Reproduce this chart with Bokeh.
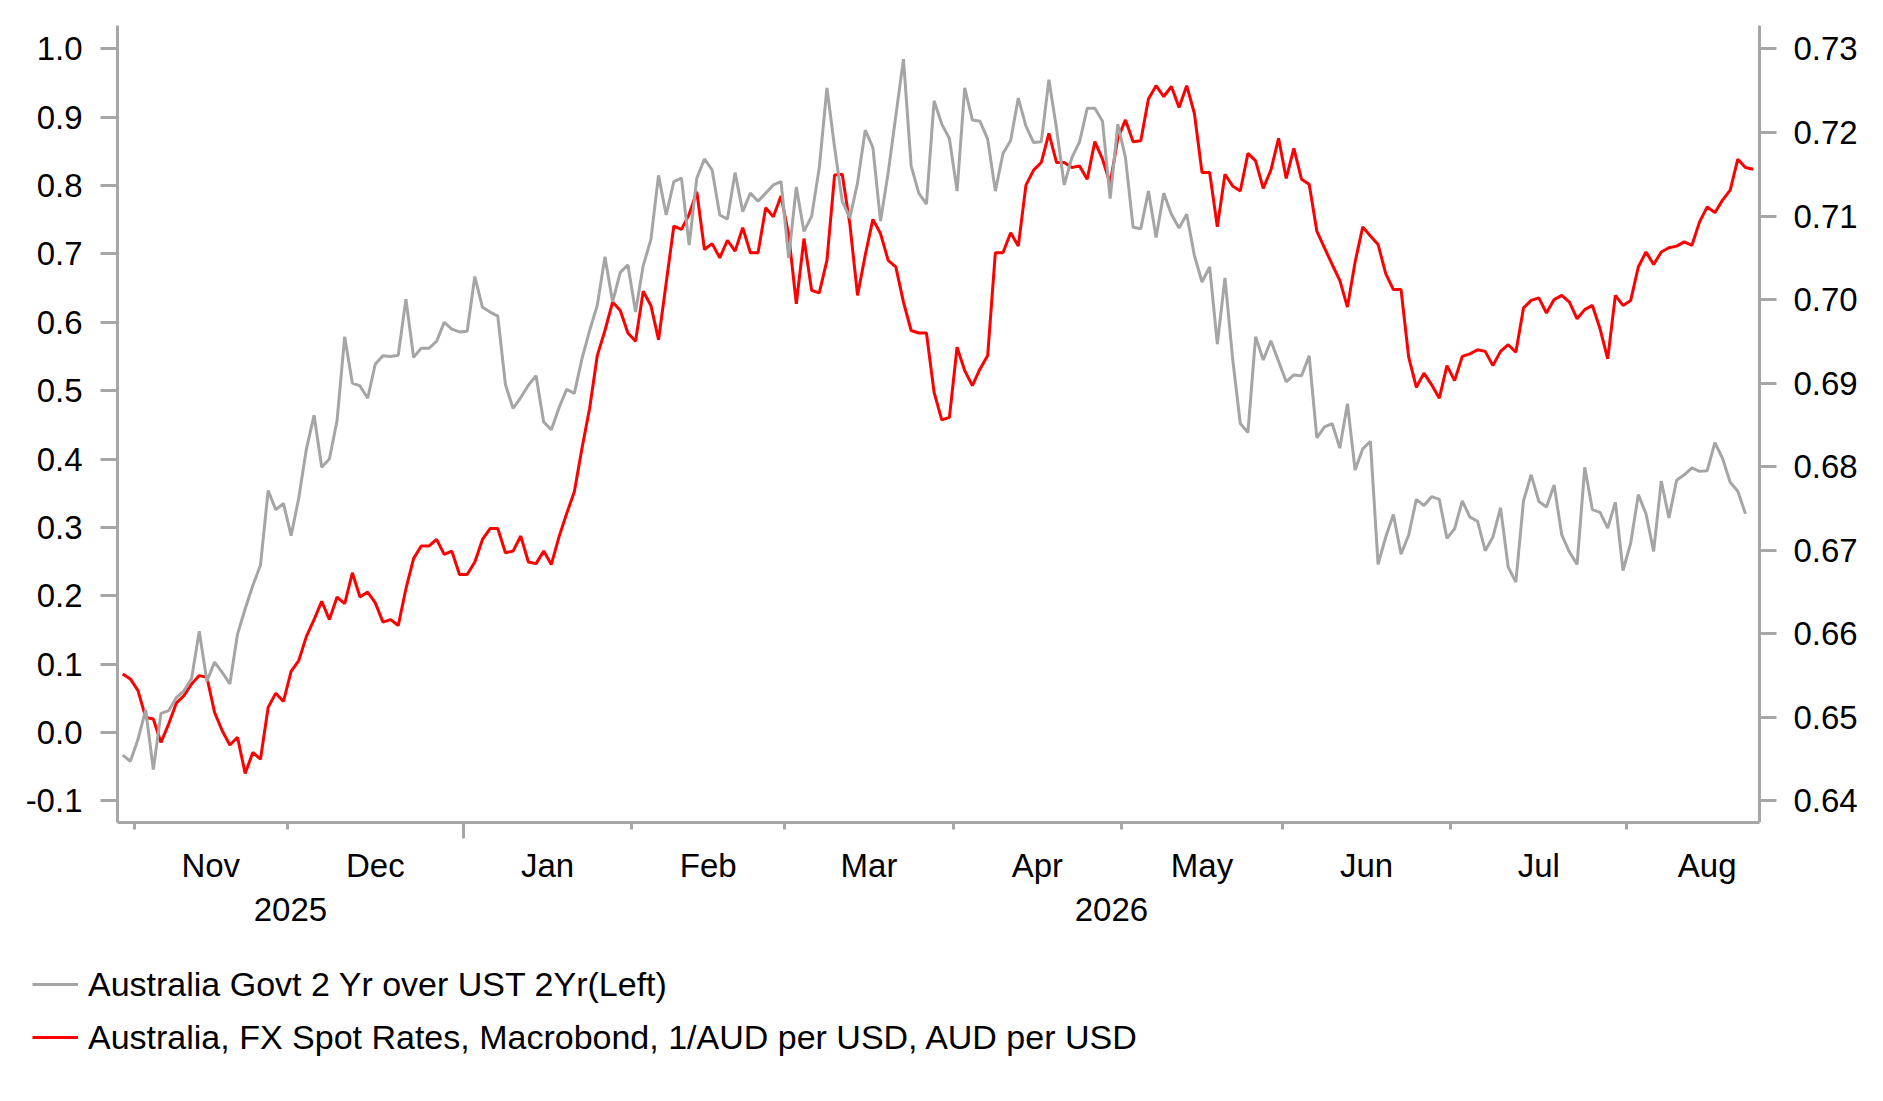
import numpy as np
import pandas as pd
from bokeh.plotting import figure
from bokeh.models import (Range1d, LinearAxis, FixedTicker, PrintfTickFormatter,
                          Legend, LegendItem)
from bokeh.embed import file_html
from bokeh.resources import INLINE

# ---------------- data ----------------
start_date = "2025-10-30"      # first business day plotted
axis_end_date = "2026-08-31"   # last business day of the last labelled month

spread_2y = [  # Australia Govt 2Yr over UST 2Yr (left axis)
    -0.033, -0.042, -0.010, 0.033, -0.054, 0.028, 0.032, 0.051, 0.061, 0.079,
    0.148, 0.075, 0.103, 0.088, 0.071, 0.144, 0.181, 0.215, 0.245, 0.354,
    0.326, 0.335, 0.288, 0.343, 0.415, 0.464, 0.388, 0.400, 0.456, 0.579,
    0.511, 0.507, 0.489, 0.539, 0.551, 0.550, 0.552, 0.634, 0.549, 0.562,
    0.562, 0.572, 0.600, 0.590, 0.586, 0.587, 0.667, 0.622, 0.615, 0.609,
    0.509, 0.474, 0.490, 0.508, 0.522, 0.454, 0.443, 0.475, 0.502, 0.496,
    0.547, 0.588, 0.625, 0.696, 0.630, 0.673, 0.684, 0.615, 0.683, 0.721,
    0.815, 0.757, 0.806, 0.811, 0.713, 0.811, 0.839, 0.823, 0.757, 0.751,
    0.819, 0.762, 0.789, 0.777, 0.789, 0.801, 0.806, 0.694, 0.798, 0.733,
    0.755, 0.826, 0.943, 0.856, 0.777, 0.753, 0.804, 0.881, 0.856, 0.748,
    0.819, 0.902, 0.985, 0.829, 0.789, 0.773, 0.924, 0.890, 0.869, 0.792,
    0.943, 0.896, 0.894, 0.868, 0.792, 0.847, 0.866, 0.928, 0.887, 0.863,
    0.864, 0.955, 0.883, 0.801, 0.841, 0.864, 0.913, 0.913, 0.894, 0.781,
    0.890, 0.841, 0.739, 0.737, 0.792, 0.724, 0.789, 0.758, 0.738, 0.758,
    0.698, 0.659, 0.681, 0.568, 0.665, 0.547, 0.452, 0.439, 0.579, 0.545,
    0.573, 0.543, 0.513, 0.523, 0.522, 0.551, 0.431, 0.447, 0.452, 0.416,
    0.481, 0.384, 0.415, 0.426, 0.246, 0.286, 0.319, 0.261, 0.289, 0.341,
    0.332, 0.345, 0.341, 0.284, 0.298, 0.339, 0.315, 0.309, 0.266, 0.286,
    0.329, 0.242, 0.220, 0.339, 0.377, 0.338, 0.330, 0.362, 0.289, 0.264,
    0.246, 0.388, 0.326, 0.322, 0.299, 0.337, 0.237, 0.277, 0.348, 0.320,
    0.265, 0.368, 0.314, 0.369, 0.377, 0.387, 0.382, 0.383, 0.424, 0.401,
    0.366, 0.353, 0.320,
]

aud_usd = [  # 1/AUD per USD (right axis)
    0.6552, 0.6546, 0.6532, 0.6500, 0.6498, 0.6470, 0.6492, 0.6517, 0.6526, 0.6540,
    0.6550, 0.6548, 0.6506, 0.6484, 0.6467, 0.6476, 0.6433, 0.6458, 0.6450, 0.6512,
    0.6529, 0.6519, 0.6555, 0.6568, 0.6597, 0.6617, 0.6639, 0.6617, 0.6644, 0.6636,
    0.6673, 0.6644, 0.6650, 0.6637, 0.6614, 0.6617, 0.6610, 0.6654, 0.6690, 0.6705,
    0.6705, 0.6713, 0.6695, 0.6699, 0.6671, 0.6671, 0.6686, 0.6713, 0.6726, 0.6726,
    0.6697, 0.6699, 0.6717, 0.6686, 0.6684, 0.6699, 0.6683, 0.6716, 0.6744, 0.6770,
    0.6822, 0.6870, 0.6933, 0.6963, 0.6997, 0.6987, 0.6960, 0.6950, 0.7010, 0.6993,
    0.6952, 0.7020, 0.7088, 0.7084, 0.7102, 0.7129, 0.7060, 0.7067, 0.7050, 0.7071,
    0.7058, 0.7086, 0.7056, 0.7056, 0.7110, 0.7099, 0.7124, 0.7078, 0.6995, 0.7073,
    0.7011, 0.7008, 0.7047, 0.7149, 0.7150, 0.7090, 0.7005, 0.7053, 0.7096, 0.7079,
    0.7047, 0.7039, 0.6997, 0.6963, 0.6960, 0.6960, 0.6889, 0.6856, 0.6859, 0.6943,
    0.6915, 0.6897, 0.6917, 0.6933, 0.7056, 0.7056, 0.7080, 0.7064, 0.7137, 0.7155,
    0.7164, 0.7199, 0.7164, 0.7164, 0.7158, 0.7160, 0.7144, 0.7189, 0.7168, 0.7139,
    0.7193, 0.7215, 0.7189, 0.7190, 0.7240, 0.7256, 0.7243, 0.7255, 0.7230, 0.7256,
    0.7223, 0.7152, 0.7152, 0.7087, 0.7150, 0.7136, 0.7130, 0.7175, 0.7166, 0.7133,
    0.7155, 0.7193, 0.7145, 0.7181, 0.7144, 0.7138, 0.7082, 0.7062, 0.7042, 0.7023,
    0.6991, 0.7045, 0.7087, 0.7076, 0.7066, 0.7031, 0.7012, 0.7012, 0.6931, 0.6895,
    0.6912, 0.6898, 0.6882, 0.6921, 0.6903, 0.6932, 0.6935, 0.6940, 0.6938, 0.6921,
    0.6938, 0.6946, 0.6937, 0.6990, 0.6999, 0.7002, 0.6984, 0.7000, 0.7005, 0.6997,
    0.6977, 0.6988, 0.6993, 0.6965, 0.6929, 0.7005, 0.6993, 0.6999, 0.7039, 0.7057,
    0.7042, 0.7057, 0.7062, 0.7064, 0.7069, 0.7065, 0.7093, 0.7111, 0.7104, 0.7119,
    0.7131, 0.7168, 0.7158, 0.7156,
]

month_names = ["Nov", "Dec", "Jan", "Feb", "Mar", "Apr", "May", "Jun", "Jul", "Aug"]
year_names = ["2025", "2026"]
left_ticks = [-0.1, 0.0, 0.1, 0.2, 0.3, 0.4, 0.5, 0.6, 0.7, 0.8, 0.9, 1.0]
right_ticks = [0.64, 0.65, 0.66, 0.67, 0.68, 0.69, 0.70, 0.71, 0.72, 0.73]
legend_labels = ["Australia Govt 2 Yr over UST 2Yr(Left)",
                 "Australia, FX Spot Rates, Macrobond, 1/AUD per USD, AUD per USD"]

# ---------------- styling ----------------
GRAY = "#A5A5A5"
RED = "#FF0000"
AXIS = "#A6A6A6"
FONT = "Liberation Sans"
FS = "33px"
LW = 3

# business-day positions
dates = pd.bdate_range(start_date, axis_end_date)
mon = dates.month.values
yr = dates.year.values
starts = list(np.where(mon[1:] != mon[:-1])[0] + 1)           # first index of Nov..Aug
bounds = [float(s) - 0.5 for s in starts]
ends = bounds[1:] + [len(dates) - 0.5]
mids = [(a + b) / 2 for a, b in zip(bounds, ends)]
jan_b = float(np.where(yr[1:] != yr[:-1])[0][0] + 1) - 0.5

x_gray = np.arange(len(spread_2y))
x_fx = np.arange(len(aud_usd))

X0, X1 = -0.68, 213.83
Y0, Y1 = -0.1316, 1.0342
R0, R1 = 0.63742, 0.7328

p = figure(width=1867, height=950, output_backend="svg", toolbar_location=None,
           x_range=Range1d(X0, X1), y_range=Range1d(Y0, Y1),
           min_border_left=117, min_border_right=108, min_border_top=25,
           min_border_bottom=128, outline_line_color=None,
           background_fill_color="white", border_fill_color="white")
p.grid.visible = False
p.extra_y_ranges = {"fx": Range1d(R0, R1)}

r_fx = p.line(x_fx, aud_usd, line_color=RED, line_width=LW, y_range_name="fx")
r_gray = p.line(x_gray, spread_2y, line_color=GRAY, line_width=LW)


def style_axis(ax):
    ax.axis_line_color = AXIS
    ax.axis_line_width = 3
    ax.major_tick_line_color = AXIS
    ax.major_tick_line_width = 3
    ax.minor_tick_line_color = AXIS
    ax.minor_tick_line_width = 3
    ax.major_label_text_font = FONT
    ax.major_label_text_font_size = FS
    ax.major_label_text_color = "black"


def bare_axis(ax):
    ax.axis_line_color = None
    ax.major_tick_line_color = None
    ax.minor_tick_line_color = None
    ax.major_tick_out = 0
    ax.major_tick_in = 0
    ax.minor_tick_out = 0
    ax.minor_tick_in = 0


# left axis
ly = p.yaxis[0]
style_axis(ly)
ly.ticker = FixedTicker(ticks=left_ticks)
ly.formatter = PrintfTickFormatter(format="%.1f")
ly.major_tick_out = 17
ly.major_tick_in = 0
ly.minor_tick_out = 0
ly.major_label_standoff = 18

# right axis
ry = LinearAxis(y_range_name="fx", ticker=FixedTicker(ticks=right_ticks),
                formatter=PrintfTickFormatter(format="%.2f"))
style_axis(ry)
ry.major_tick_out = 17
ry.major_tick_in = 0
ry.minor_tick_out = 0
ry.major_label_standoff = 17
p.add_layout(ry, "right")

# bottom axis line: month boundary ticks, longer tick at the year boundary
bx = p.xaxis[0]
style_axis(bx)
bx.ticker = FixedTicker(ticks=[jan_b], minor_ticks=bounds)
bx.major_label_overrides = {jan_b: ""}
bx.major_label_text_font_size = "1px"
bx.major_tick_out = 16
bx.major_tick_in = 0
bx.minor_tick_out = 7
bx.minor_tick_in = 0
bx.major_label_standoff = 0

# month labels at month centres
mx = LinearAxis(ticker=FixedTicker(ticks=mids),
                major_label_overrides={m: n for m, n in zip(mids, month_names)})
style_axis(mx)
bare_axis(mx)
mx.major_label_standoff = 8
p.add_layout(mx, "below")

# year labels
year_pos = [(X0 + jan_b) / 2, (jan_b + X1) / 2]
ya = LinearAxis(ticker=FixedTicker(ticks=year_pos),
                major_label_overrides={v: n for v, n in zip(year_pos, year_names)})
style_axis(ya)
bare_axis(ya)
ya.major_label_standoff = 11
p.add_layout(ya, "below")

# legend in its own strip below the chart (separate root, full-width frame)
p2 = figure(width=1867, height=135, output_backend="svg", toolbar_location=None,
            x_range=Range1d(0, 1), y_range=Range1d(0, 1), min_border=0,
            x_axis_type=None, y_axis_type=None, outline_line_color=None,
            background_fill_color="white", border_fill_color="white")
p2.grid.visible = False
# legend-only renderers: their points lie outside the strip's visible range
g_gray = p2.line([5, 6], [5, 5], line_color=GRAY, line_width=LW)
g_fx = p2.line([5, 6], [5, 5], line_color=RED, line_width=LW)
legend = Legend(items=[LegendItem(label=legend_labels[0], renderers=[g_gray]),
                       LegendItem(label=legend_labels[1], renderers=[g_fx])],
                location=(32, 28), orientation="vertical", padding=0, margin=0,
                spacing=13, glyph_width=46, glyph_height=40, label_height=40,
                label_standoff=10, label_text_font=FONT, label_text_font_size="34px",
                label_text_color="black", border_line_color=None,
                background_fill_alpha=0)
p2.add_layout(legend)

open("out.html", "w").write(file_html([p, p2], INLINE))
